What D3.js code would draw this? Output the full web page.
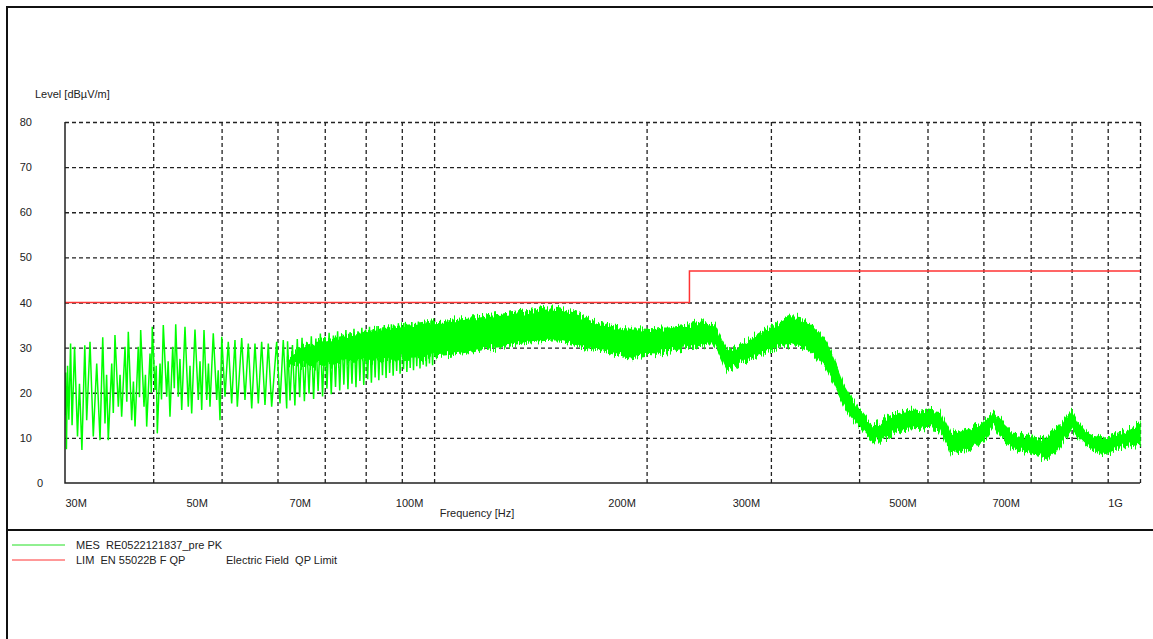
<!DOCTYPE html>
<html>
<head>
<meta charset="utf-8">
<script src="https://cdn.jsdelivr.net/npm/d3@7"></script>
<style>
  body { margin: 0; background: #fff; }
  svg { display: block; font-family: "Liberation Sans", Arial, sans-serif; }
  text { white-space: pre; fill: #222; }
</style>
</head>
<body>
<svg></svg>
<script>
var width = 1153;
var height = 639;
var plot = { left: 65, right: 1140, top: 122, bottom: 483 };

// limit line (MHz, dBuV/m)
var limitFreq = [30, 230, 230, 1000];
var limitLevel = [40, 40, 47, 47];

// low band peak trace, read spike by spike (MHz / dBuV/m)
var spikeFreq = [
  30.00, 30.06, 30.14, 30.25, 30.38, 30.55, 30.70, 30.95, 31.25, 31.45, 31.70, 32.00,
  32.20, 32.55, 32.90, 33.27, 33.63, 33.93, 34.18, 34.36, 34.55, 34.94, 35.12, 35.31,
  35.70, 35.90, 36.09, 36.49, 36.70, 36.88, 37.29, 37.50, 37.70, 38.10, 38.25, 38.40,
  38.82, 39.00, 39.16, 39.59, 39.75, 39.88, 40.24, 40.40, 40.54, 40.90, 41.10, 41.34,
  41.80, 42.00, 42.25, 42.63, 42.85, 43.05, 43.41, 43.65, 43.90, 44.37, 44.85, 45.10,
  45.35, 45.84, 46.34, 46.60, 46.86, 47.21, 47.63, 47.90, 48.14, 48.66, 49.21, 49.45,
  49.74, 50.02, 50.56, 51.10, 51.67, 52.23, 52.63, 53.39, 53.96, 54.55, 55.16, 55.75,
  56.36, 56.98, 57.60, 58.22, 58.87, 59.84, 60.49, 61.14, 61.83,
  62, 62.5, 63, 63.5, 64, 64.5, 65, 65.5, 66, 66.5, 67, 67.5, 68, 68.5, 69, 69.5,
  70, 70.5, 71, 71.5, 72, 72.5, 73, 73.5, 74, 74.5, 75, 75.5, 76, 76.5, 77, 77.5,
  78, 78.5, 79, 79.5, 80, 80.5, 81, 81.5, 82, 82.5, 83, 83.5, 84, 84.5, 85, 85.5,
  86, 86.5, 87, 87.5, 88, 88.5, 89, 89.5, 90, 90.5, 91, 91.5, 92, 92.5, 93, 93.5,
  94, 94.5, 95, 95.5, 96, 96.5, 97, 97.5, 98, 98.5, 99, 99.5, 100
];
var spikeLevel = [
  15.0, 24.5, 7.5, 26.0, 14.0, 30.9, 12.8, 30.2, 10.3, 22.0, 7.3, 30.5,
  13.9, 31.3, 10.3, 26.5, 9.5, 32.3, 13.2, 24.0, 9.5, 26.5, 15.5, 32.8,
  16.9, 24.0, 14.7, 30.2, 18.0, 33.5, 13.9, 22.5, 12.5, 30.2, 19.0, 33.9,
  16.9, 24.0, 12.5, 28.7, 20.0, 34.6, 20.6, 26.0, 11.0, 26.5, 18.5, 35.0,
  19.1, 27.0, 14.7, 30.2, 21.0, 35.2, 19.1, 27.5, 16.2, 34.6, 16.9, 26.0,
  15.4, 34.0, 18.4, 27.0, 16.2, 33.9, 18.4, 26.5, 16.9, 33.2, 18.4, 25.0,
  13.9, 32.4, 19.1, 31.3, 17.6, 31.7, 16.9, 32.1, 18.4, 30.9, 16.5, 30.9,
  17.6, 31.3, 17.3, 30.9, 16.9, 31.3, 17.6, 31.7, 16.5,
  31.4, 18.3, 30.6, 17.2, 31.9, 19.0, 32.2, 18.1, 31.2, 19.8, 32.5, 18.6, 32.0, 20.4, 33.1, 19.2,
  32.4, 20.9, 33.3, 19.7, 32.7, 21.3, 33.6, 20.5, 33.0, 21.8, 33.9, 20.8, 33.4, 22.0, 34.2, 21.2,
  33.6, 22.6, 34.4, 21.7, 34.0, 23.0, 34.6, 22.2, 34.1, 23.4, 34.8, 22.8, 34.3, 23.9, 35.0, 23.3,
  34.6, 24.4, 35.2, 23.8, 34.8, 24.8, 35.4, 24.2, 35.0, 25.2, 35.5, 24.6, 35.1, 25.5, 35.7, 25.0,
  35.3, 25.9, 35.8, 25.4, 35.4, 26.2, 35.9, 25.8, 35.6, 26.5, 36.0, 26.1, 35.8
];

// dense part of the peak trace, upper and lower edge of the band (MHz / dBuV/m)
var bandFreq = [
  62, 66, 70, 75, 80,
  85, 90, 95, 100, 105, 110, 115, 120, 125, 130, 135, 140, 145, 150, 155, 160,
  165, 170, 175, 180, 185, 190, 195, 200, 205, 210, 215, 220, 225, 230, 235, 240,
  245, 250, 255, 260, 265, 270, 275, 280, 290, 300, 310, 320, 330, 340, 350, 360,
  370, 380, 390, 400, 410, 420, 430, 440, 450, 460, 470, 480, 490, 500, 520, 540,
  560, 580, 600, 620, 640, 660, 680, 700, 720, 740, 760, 780, 800, 820, 840, 860,
  880, 900, 920, 940, 960, 980, 1000
];
var bandTop = [
  27.5, 30.5, 31.6, 32.6, 33.4,
  34.2, 34.8, 35.2, 35.7, 35.9, 36.4, 36.6, 37.1, 37.4, 37.8, 38.1, 38.4, 38.8, 38.6, 38.0, 37.3,
  36.3, 35.6, 35.0, 34.5, 34.2, 34.0, 34.1, 34.0, 33.9, 34.3, 34.3, 34.6, 34.8, 35.0, 35.4, 35.7,
  35.2, 35.0, 32.0, 29.5, 29.6, 30.3, 31.0, 31.8, 33.3, 34.4, 35.8, 36.8, 36.6, 35.3, 33.5, 31.0,
  26.5, 21.8, 18.8, 16.2, 13.9, 12.8, 13.3, 14.6, 15.3, 15.8, 16.0, 16.1, 15.9, 16.1, 15.8, 10.6,
  11.6, 12.3, 13.6, 15.6, 13.0, 11.0, 10.7, 10.2, 9.9, 10.2, 11.6, 13.6, 16.0, 13.0, 11.0, 10.3,
  9.9, 10.3, 10.8, 11.2, 11.8, 12.5, 13.4
];
var bandBottom = [
  26.5, 26.0, 26.4, 26.9, 27.2,
  27.4, 27.6, 27.8, 28.0, 28.3, 28.7, 29.3, 30.0, 30.3, 30.8, 31.2, 31.5, 31.7, 31.8, 31.3, 30.6,
  30.0, 29.6, 29.2, 28.6, 28.2, 28.0, 28.3, 28.6, 28.4, 28.9, 29.2, 29.6, 29.9, 30.2, 30.4, 30.6,
  30.9, 30.8, 28.0, 25.0, 25.6, 26.3, 26.8, 27.5, 28.6, 29.5, 30.3, 31.0, 30.2, 29.2, 27.5, 25.0,
  21.5, 17.5, 14.8, 12.6, 10.5, 9.4, 9.3, 10.0, 11.2, 11.8, 12.0, 12.1, 12.2, 12.4, 12.0, 6.5,
  7.0, 8.0, 9.6, 12.8, 9.2, 7.7, 7.1, 6.6, 6.2, 5.3, 6.8, 9.5, 12.0, 10.0, 8.4, 7.3,
  6.2, 6.8, 7.4, 7.9, 8.2, 8.4, 8.6
];

var gridFreq = [40, 50, 60, 70, 80, 90, 100, 200, 300, 400, 500, 600, 700, 800, 900, 1000];
var gridLevel = [10, 20, 30, 40, 50, 60, 70, 80];
var xTickFreq = [30, 50, 70, 100, 200, 300, 500, 700, 1000];
var xTickLabel = ["30M", "50M", "70M", "100M", "200M", "300M", "500M", "700M", "1G"];
var yTickLevel = [0, 10, 20, 30, 40, 50, 60, 70, 80];

var svg = d3.select("svg")
  .attr("width", width)
  .attr("height", height);

var x = d3.scaleLog()
  .domain([30, 1000])
  .range([plot.left, plot.right]);

var y = d3.scaleLinear()
  .domain([0, 80])
  .range([plot.bottom, plot.top]);

var defs = svg.append("defs");

defs.append("clipPath")
  .attr("id", "clip")
  .append("rect")
  .attr("x", plot.left)
  .attr("y", plot.top - 2)
  .attr("width", plot.right - plot.left + 1)
  .attr("height", plot.bottom - plot.top + 2);

// ragged, hairy edge for the dense part of the trace (texture only)
var rough = defs.append("filter")
  .attr("id", "rough")
  .attr("filterUnits", "userSpaceOnUse")
  .attr("x", plot.left - 5).attr("y", plot.top - 20)
  .attr("width", plot.right - plot.left + 10).attr("height", plot.bottom - plot.top + 40);
rough.append("feTurbulence")
  .attr("type", "fractalNoise")
  .attr("baseFrequency", "0.7 0.015")
  .attr("numOctaves", 2)
  .attr("seed", 4)
  .attr("result", "noise");
rough.append("feColorMatrix")
  .attr("in", "noise")
  .attr("type", "matrix")
  .attr("values", "0 0 0 0 0.5  0 1 0 0 0  0 0 0 0 0  0 0 0 0 1")
  .attr("result", "shift");
rough.append("feDisplacementMap")
  .attr("in", "SourceGraphic")
  .attr("in2", "shift")
  .attr("scale", 16)
  .attr("xChannelSelector", "R")
  .attr("yChannelSelector", "G");

// outer frame
svg.append("path")
  .attr("d", "M7,639V7H1153M7,530H1153")
  .attr("fill", "none")
  .attr("stroke", "#111")
  .attr("stroke-width", 2);

// grid
var xGrid = svg.append("g")
  .attr("transform", "translate(0," + plot.bottom + ")")
  .call(d3.axisBottom(x).tickValues(gridFreq).tickSize(-(plot.bottom - plot.top)).tickFormat(""));
xGrid.select(".domain").remove();

var yGrid = svg.append("g")
  .attr("transform", "translate(" + plot.left + ",0)")
  .call(d3.axisLeft(y).tickValues(gridLevel).tickSize(-(plot.right - plot.left)).tickFormat(""));
yGrid.select(".domain").remove();

svg.selectAll(".tick line")
  .attr("stroke", "#222")
  .attr("stroke-width", 1.3)
  .attr("stroke-dasharray", "4,3");

// traces
var traces = svg.append("g").attr("clip-path", "url(#clip)");

var band = bandFreq.map((f, i) => ({ f: f, hi: bandTop[i], lo: bandBottom[i] }));

traces.append("g")
  .attr("filter", "url(#rough)")
  .append("path")
  .datum(band)
  .attr("fill", "#00ff00")
  .attr("stroke", "#00ff00")
  .attr("stroke-width", 1.5)
  .attr("d", d3.area()
    .x(d => x(d.f))
    .y0(d => y(d.lo))
    .y1(d => y(d.hi)));

traces.append("path")
  .datum(spikeFreq.map((f, i) => [f, spikeLevel[i]]))
  .attr("fill", "none")
  .attr("stroke", "#00ff00")
  .attr("stroke-width", 1.5)
  .attr("d", d3.line().x(d => x(d[0])).y(d => y(d[1])));

traces.append("path")
  .datum(limitFreq.map((f, i) => [f, limitLevel[i]]))
  .attr("fill", "none")
  .attr("stroke", "#f33")
  .attr("stroke-width", 1.5)
  .attr("d", d3.line().x(d => x(d[0])).y(d => y(d[1])));

// solid axes
svg.append("path")
  .attr("d", "M" + plot.left + "," + plot.top + "V" + plot.bottom + "H" + plot.right)
  .attr("fill", "none")
  .attr("stroke", "#222")
  .attr("stroke-width", 1.5);

// tick labels
var xAxis = svg.append("g")
  .attr("transform", "translate(0," + plot.bottom + ")")
  .call(d3.axisBottom(x).tickValues(xTickFreq).tickSize(0).tickPadding(16)
    .tickFormat((d, i) => xTickLabel[i]));
xAxis.select(".domain").remove();
xAxis.selectAll("text")
  .attr("fill", "#222")
  .attr("font-size", 11)
  .attr("font-family", "Liberation Sans, Arial, sans-serif")
  .attr("x", d => d === 30 ? 0 : -25)
  .attr("text-anchor", d => d === 30 ? "start" : "middle");

var yAxis = svg.append("g")
  .attr("transform", "translate(" + plot.left + ",0)")
  .call(d3.axisLeft(y).tickValues(yTickLevel).tickSize(0).tickPadding(33));
yAxis.select(".domain").remove();
yAxis.selectAll("text")
  .attr("fill", "#222")
  .attr("font-size", 11)
  .attr("font-family", "Liberation Sans, Arial, sans-serif")
  .attr("x", d => d === 0 ? -22 : -33);

svg.append("text")
  .attr("x", 35)
  .attr("y", 98)
  .attr("font-size", 11)
  .text("Level [dBµV/m]");

svg.append("text")
  .attr("x", 477)
  .attr("y", 517)
  .attr("text-anchor", "middle")
  .attr("font-size", 11)
  .text("Frequency [Hz]");

// legend
var legend = svg.append("g").attr("font-size", 11);

legend.append("line")
  .attr("x1", 12).attr("x2", 65)
  .attr("y1", 545).attr("y2", 545)
  .attr("stroke", "#22e022")
  .attr("stroke-width", 1);
legend.append("text")
  .attr("x", 76).attr("y", 549)
  .text("MES  RE0522121837_pre PK");

legend.append("line")
  .attr("x1", 12).attr("x2", 65)
  .attr("y1", 560).attr("y2", 560)
  .attr("stroke", "#f33")
  .attr("stroke-width", 1);
legend.append("text")
  .attr("x", 76).attr("y", 564)
  .text("LIM  EN 55022B F QP");
legend.append("text")
  .attr("x", 226).attr("y", 564)
  .text("Electric Field  QP Limit");
</script>
</body>
</html>
